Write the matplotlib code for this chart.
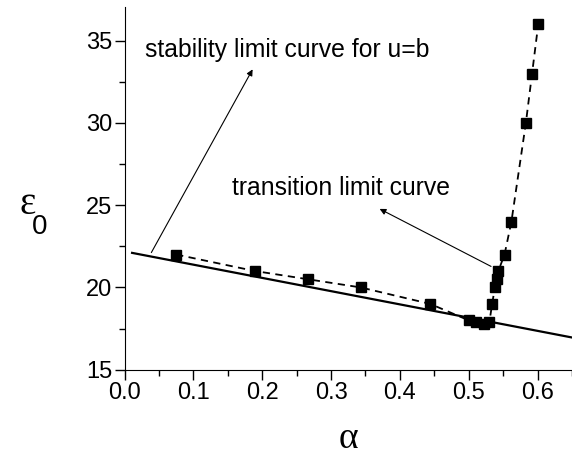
import numpy as np
import matplotlib.pyplot as plt
from matplotlib.ticker import MultipleLocator

plt.rcParams['font.family'] = ['Liberation Sans', 'DejaVu Sans']

# datos de la curva de transicion (puntos)
alpha = [0.075, 0.189, 0.266, 0.343, 0.444, 0.500, 0.510, 0.522, 0.530, 0.534,
         0.538, 0.541, 0.543, 0.552, 0.562, 0.583, 0.592, 0.601]
eps0 = [22.0, 21.0, 20.5, 20.0, 19.0, 18.0, 17.9, 17.8, 17.9, 19.0,
        20.0, 20.5, 21.0, 22.0, 24.0, 30.0, 33.0, 36.0]

# curva limite de estabilidad (u=b), recta
stab_alpha = [0.011, 0.651]
stab_eps = [22.1, 16.95]

fig = plt.figure(figsize=(5.72, 4.57), dpi=100)
ax = fig.add_axes([0.2177, 0.191, 0.7823, 0.794])

ax.plot(stab_alpha, stab_eps, color='black', lw=1.6)
ax.plot(alpha, eps0, color='black', ls=(0, (4, 3)), lw=1.3,
        marker='s', markersize=7.5, markerfacecolor='black', markeredgecolor='black')

# flechas y etiquetas
ax.annotate('', xy=(0.188, 33.4), xytext=(0.037, 21.97),
            arrowprops=dict(arrowstyle='-|>', color='black', lw=0.8, mutation_scale=9))
ax.text(0.030, 34.4, 'stability limit curve for u=b', fontsize=17.8, va='center', ha='left')

ax.annotate('', xy=(0.367, 24.85), xytext=(0.536, 21.2),
            arrowprops=dict(arrowstyle='-|>', color='black', lw=0.8, mutation_scale=9))
ax.text(0.156, 26.05, 'transition limit curve', fontsize=17.8, va='center', ha='left')

ax.set_xlim(0, 0.65)
ax.set_ylim(15, 37.05)
ax.xaxis.set_major_locator(MultipleLocator(0.1))
ax.xaxis.set_minor_locator(MultipleLocator(0.05))
ax.yaxis.set_major_locator(MultipleLocator(5))
ax.yaxis.set_minor_locator(MultipleLocator(2.5))
ax.xaxis.set_major_formatter(plt.FormatStrFormatter('%.1f'))

for s in ['top', 'right']:
    ax.spines[s].set_visible(False)
ax.tick_params(which='major', direction='out', length=7, width=1, labelsize=17, pad=2)
ax.tick_params(which='minor', direction='out', length=4, width=1)

# etiquetas de los ejes
ax.set_xlabel('α', fontsize=27, family='Liberation Serif', va='center')
ax.xaxis.set_label_coords(0.4994, -0.19)
ax.set_ylabel('ε', fontsize=28, family='Liberation Serif', rotation=0, va='center', ha='center')
ax.yaxis.set_label_coords(-0.2175, 0.455)
fig.text(40 / 572, 1 - 227 / 457, '0', fontsize=20, va='center', ha='center')

fig.savefig('out.png', dpi=100)
